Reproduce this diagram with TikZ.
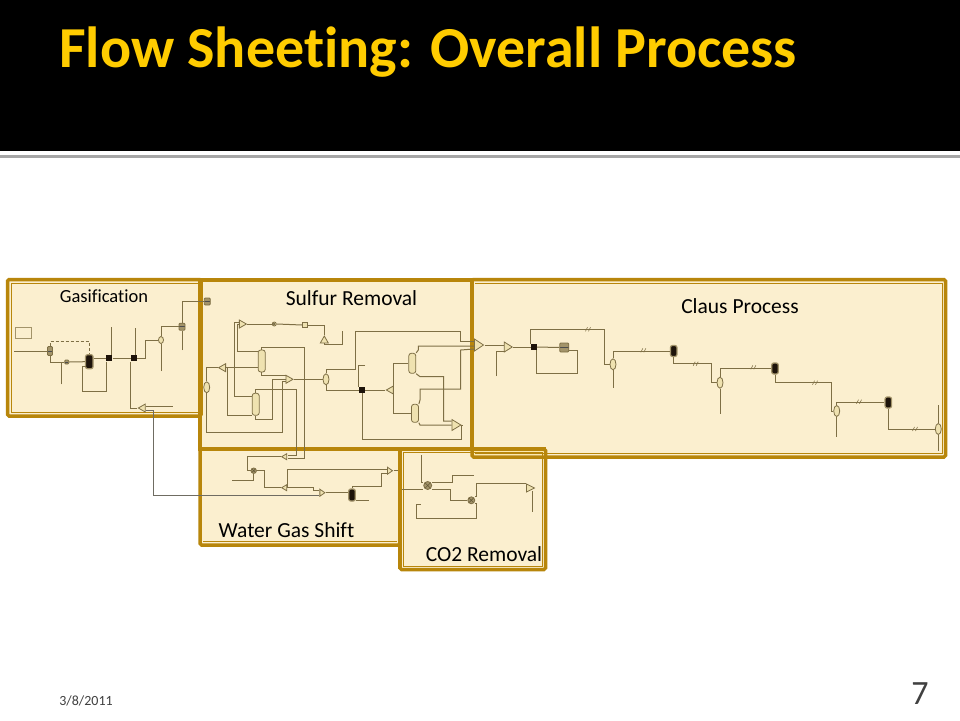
\documentclass[tikz,border=0pt]{standalone}
\usepackage{fontspec}
\setmainfont{Carlito}[Ligatures=NoCommon]
\usetikzlibrary{shapes.geometric}
\definecolor{goldline}{HTML}{B8860B}
\definecolor{panelfill}{HTML}{FBEFCF}
\definecolor{stripfill}{HTML}{FBE8AE}
\definecolor{pipecol}{HTML}{7E6F45}
\definecolor{greypipe}{HTML}{6F6C62}
\definecolor{unitfill}{HTML}{EFE2B0}
\definecolor{unitdark}{HTML}{A3946A}
\definecolor{titlecol}{HTML}{FFCC00}
\tikzset{
	pipe/.style={draw=pipecol, line width=1pt},
	unit/.style={draw=pipecol, fill=unitfill, line width=0.8pt, inner sep=0pt},
	vesl/.style={unit, ellipse, minimum width=6pt, minimum height=11pt},
	tower/.style={unit, rounded corners=2.5pt, minimum width=7pt, minimum height=22pt},
	blk/.style={fill=black!85!brown, inner sep=0pt, minimum size=6pt},
	blkv/.style={draw=unitdark, line width=1.2pt, fill=black!85!brown, rounded corners=2pt, inner sep=0pt, minimum width=6.5pt, minimum height=11pt},
	drum/.style={unit, fill=unitdark, rounded corners=1pt, minimum width=6pt, minimum height=7pt,
		path picture={\draw[black!70,line width=1pt] (path picture bounding box.west) -- (path picture bounding box.east);}},
	hxr/.style={unit, circle, minimum size=7pt, path picture={\draw[pipecol!80!black,line width=0.6pt]
		(path picture bounding box.north west) -- (path picture bounding box.south east)
		(path picture bounding box.north east) -- (path picture bounding box.south west);}},
	tri/.style={unit, isosceles triangle, isosceles triangle stretches, minimum width=8pt, minimum height=7pt},
	label/.style={inner sep=0pt, font=\fontsize{21.5}{21.5}\selectfont},
}
\begin{document}
\begin{tikzpicture}[x=1pt,y=-1pt]
	\useasboundingbox (0,0) rectangle (960,720);
	\fill[white] (0,0) rectangle (960,720);
	\fill[black] (0,0) rectangle (960,151);
	\fill[gray!70] (0,155) rectangle (960,157.5);
	\node[inner sep=0pt, anchor=west, text=titlecol, font=\bfseries\fontsize{58}{58}\selectfont] (title) at (59,52) {Flow Sheeting: Overall Process};

	% panels
	\foreach \xa/\ya/\xb/\yb in {7.5/279.5/201/416, 472/279.5/945.5/457, 400/449/545.5/569.5, 200/449/400/545, 200/280/472/449}
		\fill[panelfill] (\xa,\ya) rectangle (\xb,\yb);
	\fill[stripfill] (472,449) rectangle (545.5,455);
	\foreach \xa/\ya/\xb/\yb in {7.5/279.5/201/416, 472/279.5/945.5/457, 400/449/545.5/569.5, 200/449/400/545}
		\draw[goldline, line width=3.5pt, rounded corners=1.5pt] (\xa,\ya) rectangle (\xb,\yb);
	\draw[goldline, line width=0.8pt] (198,283) -- (11,283) -- (11,412.5) -- (198,412.5);
	\draw[goldline, line width=0.8pt] (475,283) -- (942,283) -- (942,453.5) -- (475,453.5);
	\draw[goldline, line width=0.8pt] (203,541.5) -- (397,541.5);
	\draw[goldline, line width=0.8pt] (403.5,452.5) rectangle (542,566);
	\draw[goldline, line width=4pt] (200,280) rectangle (472,449);
	\draw[goldline, line width=4pt] (400,449) -- (545.5,449) (400,449) -- (400,569);

	% gasification
	\node[unit, fill=panelfill, draw=unitdark, minimum width=16pt, minimum height=11pt] (gbox) at (23.7,332.8) {};
	\node[drum, minimum width=5pt, minimum height=9pt] (gv1) at (50,351) {};
	\node[drum, minimum width=4pt, minimum height=4pt] (gh1) at (66.7,362) {};
	\node[blkv, minimum width=7.5pt, minimum height=14pt] (gr1) at (89.3,361.7) {};
	\node[blk] (gb1) at (109.3,358.3) {};
	\node[blk] (gb2) at (133.7,358.3) {};
	\node[vesl, minimum width=5pt, minimum height=7pt] (gv2) at (161,340) {};
	\node[drum] (gd1) at (182,326.7) {};
	\node[drum] (gd2) at (207.3,301.5) {};
	\node[tri, shape border rotate=180] (gt1) at (143,408) {};
	\coordinate (gfeed) at (14,351);
	\coordinate (gc1) at (61.7,384.3);
	\coordinate (gc2) at (111,327.3);
	\coordinate (gc3) at (135.7,328.3);
	\coordinate (gc4) at (161,371);
	\coordinate (gc5) at (182,350);
	\coordinate (gc6) at (173.3,406);
	\draw[pipe] (gfeed) -- (gv1);
	\draw[pipe, densely dashed] (gv1.north) -- (50,341.7) -| (gr1.north);
	\draw[pipe] (gv1.south) |- (gh1.west);
	\draw[pipe] (gc1) |- (gh1.west);
	\draw[pipe] (gh1.east) -- (gr1.west);
	\draw[pipe] (gr1.north east |- gb1) -- (gb1.west);
	\draw[pipe] (gc2) -- (gc2 |- gb1.north);
	\draw[pipe] (gb1.south west) -- ++(0,30) -| (82.3,366.7) -- (85.5,366.7);
	\draw[pipe] (gb1.east) -- (gb2.west);
	\draw[pipe] (gc3) -- (gc3 |- gb2.north);
	\draw[pipe] (gb2.east) -- (145.3,358.3) |- (gv2.west);
	\draw[pipe] (gc4) -- (gv2.south);
	\draw[pipe] (gv2.north) |- (gd1.west);
	\draw[pipe] (gc5) -- (gd1.south);
	\draw[pipe] (gd1.north) |- (gd2.west);
	\draw[pipe] (gb2.south west) |- (gt1.west);
	\draw[pipe] (gt1.east |- gc6) -- (gc6);

	% sulfur removal
	\node[tri] (sm1) at (241.7,324) {};
	\node[hxr, minimum size=4pt] (sp1) at (274.3,324) {};
	\node[unit, minimum size=5pt] (sq1) at (305,325) {};
	\node[tri, shape border rotate=90] (st1) at (324.3,340.7) {};
	\node[tower] (stw1) at (261.7,361) {};
	\node[tower] (stw2) at (255.7,404.3) {};
	\node[tri, shape border rotate=180] (st2) at (223.3,367.7) {};
	\node[vesl, minimum width=6pt] (sv1) at (206.7,387.3) {};
	\node[tri] (sm2) at (288.3,379.3) {};
	\node[vesl] (sv2) at (326,379.3) {};
	\node[blk] (sb1) at (362,390) {};
	\node[tri, shape border rotate=180] (st3) at (391,390) {};
	\node[tower, minimum height=20pt] (stw3) at (412.3,363.3) {};
	\node[tower, minimum height=18pt] (stw4) at (415,413.3) {};
	\node[tri, minimum width=11pt, minimum height=9pt] (sm3) at (455,425) {};
	\node[tri, minimum width=12pt, minimum height=9pt] (sm4) at (477.7,345) {};
	\coordinate (sc1) at (342,331);
	\coordinate (sc2) at (365,365);
	\draw[pipe] (sm1.east) -- (sp1.west);
	\draw[pipe] (sp1.east) -- (sq1.west);
	\draw[pipe] (sq1.east) -| (st1.north);
	\draw[pipe] (st1.south) -- (324.3,344.3) -| (sc1);
	\draw[pipe] (sm1.west |- 0,322.3) -- (234.3,322.3) -- (234.3,396.7) -- (stw2.west |- 0,396.7);
	\draw[pipe] (sm1.west) -- (237.3,324) |- (stw1.west |- 0,351.7);
	\draw[pipe] (stw1.north) -- (261.7,347) -| (304,458.3) -- (288,458.3);
	\draw[pipe] (stw2.north) -- (255.7,389) -| (296.7,455) -- (288,455);
	\draw[pipe] (st2.east) -- (stw1.west |- st2);
	\draw[pipe] (st2.west) -| (sv1.north);
	\draw[pipe] (sv1.south) -- (206.7,432.7) -| (282.3,381.7) -- (sm2.west |- 0,381.7);
	\draw[pipe] (227.3,367.7) |- (stw2.west |- 0,415.3);
	\draw[pipe] (stw1.south) |- (sm2.west |- 0,375.7);
	\draw[pipe] (stw2.south) |- (272.3,419) -- (272.3,379.3) -- (sm2.west);
	\draw[pipe] (sm2.east) -- (sv2.west);
	\draw[pipe] (sv2.north) -- (326,369.3) -| (355.3,331) -| (460.7,341) -- (sm4.west |- 0,341);
	\draw[pipe] (sv2.south) |- (sb1.west);
	\draw[pipe] (sc2) -| (sb1.north west);
	\draw[pipe] (sb1.east) -- (st3.west);
	\draw[pipe] (sb1.south) |- (461.7,439) -- (461.7,425) -- (sm3.east);
	\draw[pipe] (st3.east) |- (stw3.west);
	\draw[pipe] (st3.east) |- (stw4.west);
	\draw[pipe] (stw3.north east) -- (418.3,350) -- (418.3,346) -- (sm4.west |- 0,346);
	\draw[pipe] (stw3.south east) -- (420,376.7) -| (443.7,421) -- (sm3.west |- 0,421);
	\draw[pipe] (stw4.north east) -- (420,400) -- (420,389) -| (460.7,350) -- (sm4.west |- 0,349);
	\draw[pipe] (stw4.south east) -- (420,425) -- (sm3.west);

	% claus process
	\node[tri, minimum height=8pt, minimum width=10pt] (ct1) at (507,347) {};
	\node[blk] (cb1) at (533.7,347) {};
	\node[drum, minimum width=9pt, minimum height=9pt] (cd1) at (564.3,347.5) {};
	\node[vesl] (cv1) at (613,364.3) {};
	\node[blkv] (cb2) at (673.7,351) {};
	\node[vesl] (cv2) at (720,382.7) {};
	\node[blkv] (cb3) at (775,368.5) {};
	\node[vesl] (cv3) at (836.7,411) {};
	\node[blkv] (cb4) at (888.3,402.5) {};
	\node[vesl] (cv4) at (938.3,429) {};
	\coordinate (cc1) at (496,376);
	\coordinate (cc2) at (613,387.7);
	\coordinate (cc3) at (720,414);
	\coordinate (cc4) at (836.7,436.7);
	\coordinate (cc5) at (938.3,405);
	\coordinate (cc6) at (938.3,451);
	\draw[pipe] (sm4.east) -- (ct1.west |- sm4);
	\draw[pipe] (cc1) |- (ct1.west |- 0,351);
	\draw[pipe] (ct1.east) -- (cb1.west);
	\draw[pipe] (cb1.north west) |- (604.3,329.3) -- (604.3,364.3) -- (cv1.west);
	\draw[pipe] (cb1.east) -- (cd1.west);
	\draw[pipe] (cd1.east |- 0,350.7) -- (577.3,350.7) |- (cb1.south east |- 0,373) -- (cb1.south east);
	\draw[pipe] (cv1.north) |- (cb2.west);
	\draw[pipe] (cv1.south) -- (cc2);
	\draw[pipe] (cb2.south) |- (711,363.7) -- (711,382.7) -- (cv2.west);
	\draw[pipe] (cv2.north) |- (cb3.west);
	\draw[pipe] (cv2.south) -- (cc3);
	\draw[pipe] (cb3.south) |- (831,382.7) -- (831,411) -- (cv3.west);
	\draw[pipe] (cv3.north) |- (cb4.west);
	\draw[pipe] (cv3.south) -- (cc4);
	\draw[pipe] (cb4.south) |- (cv4.west);
	\draw[pipe] (cc5) -- (cv4.north);
	\draw[pipe] (cv4.south) -- (cc6);
	\foreach \tx/\ty in {588/329.3, 643.3/350.3, 695.7/363.7, 753.3/367.3, 815/382.7, 859/401.7, 915/429}
		\draw[pipecol, line width=0.6pt, shift={(\tx,\ty)}] (-2.5,2) -- (-0.5,-2) (0.5,2) -- (2.5,-2);

	% water gas shift
	\node[tri, shape border rotate=180, minimum width=6pt, minimum height=5pt] (wt1) at (285,456.7) {};
	\node[hxr, minimum size=5.5pt, fill=unitdark] (wh1) at (253.7,470.7) {};
	\node[tri, shape border rotate=180, minimum width=6pt, minimum height=5pt] (wt2) at (285,487.7) {};
	\node[tri, minimum width=7pt, minimum height=5pt] (wt3) at (321.7,492.7) {};
	\node[tri, minimum width=7pt, minimum height=5pt] (wt4) at (389.3,470.7) {};
	\node[blkv, minimum height=12pt] (wb1) at (352,495) {};
	\coordinate (wc1) at (232.3,480.7);
	\coordinate (wc2) at (369.3,500);
	\coordinate (wc3) at (398.3,470.7);
	\draw[pipe] (wt1.west) -- (247.7,456.7) |- (wh1.west);
	\draw[pipe] (wc1) -| (wh1.south);
	\draw[pipe] (wh1.east) -- (264.7,470.7) |- (wt2.west);
	\draw[pipe] (wt2.east) |- (wt4.west |- 0,469);
	\draw[pipe] (wt2.east) -- (313.3,487.7) |- (wt3.west |- 0,490.7);
	\draw[pipe] (wt3.east) -- (wb1.west |- wt3);
	\draw[pipe] (wb1.north) |- (381.7,486.7) -- (381.7,473.3) -- (wt4.west |- 0,473.3);
	\draw[pipe] (wb1.east |- wc2) -- (wc2);
	\draw[pipe] (wt4.east) -- (wc3);
	\draw[greypipe, line width=1pt] (gt1.east |- 0,410.7) -- (153.5,410.7) |- (wt3.west |- 0,495.3);

	% co2 removal
	\node[hxr, minimum size=8pt, fill=unitdark] (oh1) at (427.7,485.5) {};
	\node[hxr, fill=unitdark] (oh2) at (471.3,500.3) {};
	\node[tri, minimum width=8pt, minimum height=8pt] (ot1) at (529,488) {};
	\coordinate (oc1) at (421,455);
	\coordinate (oc2) at (402.3,489.3);
	\coordinate (oc3) at (474,475.3);
	\coordinate (oc4) at (420.7,504.3);
	\coordinate (oc5) at (532.3,511.7);
	\draw[pipe] (oc1) |- (oh1.west |- 0,482.7);
	\draw[pipe] (oc2) -- (oh1.west |- oc2);
	\draw[pipe] (oh1.east |- 0,489.3) -- (450,489.3) |- (oh2.west);
	\draw[pipe] (oh1.east |- 0,482.7) -- (452.3,482.7) |- (oc3);
	\draw[pipe] (oh2.east |- 0,503.3) -- (476.7,503.3) |- (416,518.3) |- (oc4);
	\draw[pipe] (oh2.east |- 0,496.7) -- (476.7,496.7) |- (ot1.west |- 0,483.5);
	\draw[pipe] (oc5) -- (oc5 |- ot1.south);

	% labels
	\node[label, font=\fontsize{18.5}{18.5}\selectfont] (lgas) at (104,296) {Gasification};
	\node[label] (lsul) at (351.5,298.5) {Sulfur Removal};
	\node[label] (lcla) at (740,306.5) {Claus Process};
	\node[label] (lwgs) at (286.5,530) {Water Gas Shift};
	\node[label] (lco) at (484,554.5) {CO2 Removal};
	\node[inner sep=0pt, text=black!75, font=\fontsize{14}{14}\selectfont] (ldate) at (86,700.5) {3/8/2011};
	\node[inner sep=0pt, text=black!75, font=\fontsize{34}{34}\selectfont] (lnum) at (920,694) {7};
\end{tikzpicture}
\end{document}
